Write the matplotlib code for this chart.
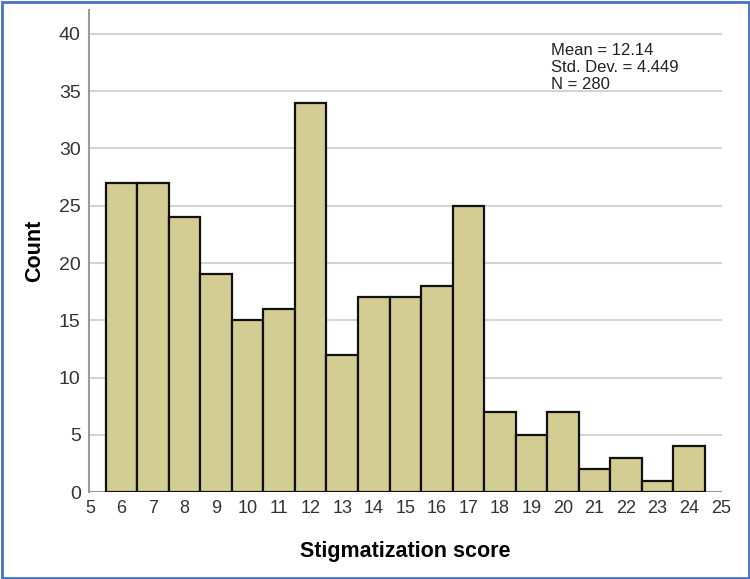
import matplotlib.pyplot as plt
from matplotlib.patches import Rectangle

# histogram counts per stigmatization score
scores = [6, 7, 8, 9, 10, 11, 12, 13, 14, 15, 16, 17, 18, 19, 20, 21, 22, 23, 24]
counts = [27, 27, 24, 19, 15, 16, 34, 12, 17, 17, 18, 25, 7, 5, 7, 2, 3, 1, 4]
xticks = list(range(5, 26))
yticks = list(range(0, 45, 5))
stats_text = "Mean = 12.14\nStd. Dev. = 4.449\nN = 280"

plt.rcParams['font.family'] = ['Liberation Sans', 'DejaVu Sans']

fig = plt.figure(figsize=(7.5, 5.79), dpi=100)
ax = fig.add_axes([0.1187, 0.150, 0.8443, 0.833])

ax.bar(scores, counts, width=1.0, color="#D3CD93", edgecolor="#111111",
       linewidth=1.6, zorder=3)

ax.set_xlim(4.97, 25.05)
ax.set_ylim(0, 42.1)
ax.set_xticks(xticks)
ax.set_yticks(yticks)
ax.tick_params(axis="x", length=0, labelsize=13, colors="#333333", pad=6)
ax.tick_params(axis="y", length=0, labelsize=14, colors="#333333", pad=6)
ax.grid(axis="y", color="#d4d4d4", linewidth=1.5, zorder=0)
ax.axhline(0, color="#999999", linewidth=1.5, zorder=2)

for side in ["top", "right", "bottom"]:
    ax.spines[side].set_visible(False)
ax.spines["left"].set_color("#999999")
ax.spines["left"].set_linewidth(1.5)

ax.set_xlabel("Stigmatization score", fontsize=15.5, fontweight="bold", labelpad=17)
ax.set_ylabel("Count", fontsize=15.5, fontweight="bold", labelpad=10)

ax.text(0.729, 0.931, stats_text, transform=ax.transAxes, fontsize=12,
        va="top", ha="left", color="#222222", linespacing=1.17)

# blue frame around the whole picture
fig.patches.append(Rectangle((0.002, 0.002), 0.996, 0.995, transform=fig.transFigure,
                             fill=False, edgecolor="#4472C4", linewidth=2))

plt.savefig("out.png", dpi=100)
